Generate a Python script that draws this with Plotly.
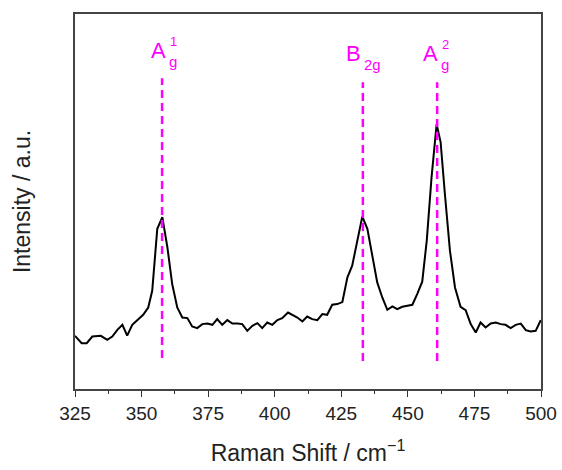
import plotly.graph_objects as go

raman_shift = [325.0, 327.5, 329.4, 331.5, 334.7, 337.1, 339.0, 340.9, 342.8, 344.6,
               346.5, 348.4, 350.6, 352.5, 354.0, 355.9, 357.8, 359.7, 361.5, 363.4,
               365.3, 367.2, 369.0, 370.9, 372.8, 374.7, 376.6, 378.4, 380.3, 382.2,
               384.1, 386.0, 387.8, 389.7, 391.6, 393.5, 395.3, 397.2, 399.1, 401.0,
               402.8, 405.0, 406.6, 408.5, 410.4, 412.2, 414.1, 416.0, 417.9, 419.7,
               421.6, 423.5, 425.4, 427.3, 429.1, 431.0, 432.9, 434.8, 436.6, 438.5,
               440.4, 442.3, 444.2, 446.0, 447.9, 449.8, 451.7, 453.5, 455.4, 457.1,
               458.9, 460.8, 462.3, 463.9, 465.8, 467.7, 469.8, 471.7, 473.6, 475.5,
               477.3, 479.2, 481.1, 483.0, 484.9, 486.7, 488.6, 490.5, 492.4, 494.3,
               496.1, 498.0, 499.9]
intensity = [53, 45.7, 45.7, 52.3, 53, 49, 52.3, 59, 64, 53.3,
             64, 69, 74, 81.3, 98, 159.7, 171.3, 141.3, 104.7, 81.3,
             71.3, 70.7, 62.3, 60.7, 64.7, 65.3, 64, 69.7, 64, 68.7,
             65.3, 65.3, 64.7, 58, 63, 65.7, 60.7, 66.3, 64, 68.7,
             70.7, 76.3, 74, 71.3, 67.3, 72.3, 69.7, 68.7, 74.7, 74,
             84, 84.7, 86.7, 111.3, 123, 148, 172, 159.7, 134.7, 106.3,
             91.3, 79, 82.3, 79.7, 82, 83.3, 84, 94.7, 107, 148,
             211.3, 264, 246.3, 194.7, 138, 101.3, 82, 78.7, 64.7, 56.3,
             66.3, 61.3, 65.3, 66.3, 64.7, 64, 60.7, 64, 65.3, 58.7,
             57.3, 58, 68.7]

mode_positions = [357.7, 433.1, 461.0]
mode_main = ["A", "B", "A"]
mode_sub = ["g", "2g", "g"]
mode_sup = ["1", "", "2"]
mode_line_top = [310, 306, 306]
mode_line_bottom = [31, 28, 28]

MAG = "#ff00ff"
FONT = "Arial, Liberation Sans, sans-serif"

fig = go.Figure()
fig.add_trace(go.Scatter(x=raman_shift, y=intensity, mode="lines",
                         line=dict(color="black", width=2), showlegend=False))

for xp, top, bot in zip(mode_positions, mode_line_top, mode_line_bottom):
    fig.add_trace(go.Scatter(x=[xp, xp], y=[bot, top], mode="lines",
                             line=dict(color=MAG, width=2.5, dash="8px,5px"),
                             showlegend=False))

main_shift = [6, 0, 3]
main_y = [338, 335, 335]
for i, xp in enumerate(mode_positions):
    fig.add_annotation(x=xp, y=main_y[i], text=mode_main[i], showarrow=False,
                       xanchor="right", yanchor="middle", xshift=main_shift[i],
                       font=dict(family=FONT, size=22, color=MAG))
    fig.add_annotation(x=xp, y=main_y[i], text=mode_sub[i], showarrow=False,
                       xanchor="left", yanchor="middle", xshift=main_shift[i] - 1,
                       yshift=-11, font=dict(family=FONT, size=15, color=MAG))
    if mode_sup[i]:
        fig.add_annotation(x=xp, y=main_y[i], text=mode_sup[i], showarrow=False,
                           xanchor="left", yanchor="middle", xshift=main_shift[i],
                           yshift=9, font=dict(family=FONT, size=13, color=MAG))

fig.update_layout(
    width=562, height=470,
    margin=dict(l=75, r=21, t=14, b=81, autoexpand=False),
    plot_bgcolor="white", paper_bgcolor="white",
    font=dict(family=FONT, color="#222"),
)
fig.update_xaxes(range=[325, 500], tickvals=[325, 350, 375, 400, 425, 450, 475, 500],
                 ticks="outside", ticklen=6, tickwidth=1.3, tickcolor="#333",
                 minor=dict(tickvals=[337.5, 362.5, 387.5, 412.5, 437.5, 462.5, 487.5],
                            ticks="outside", ticklen=3, tickcolor="#333", tickwidth=1.3),
                 showline=True, linecolor="#444", linewidth=1.5, mirror=True,
                 showgrid=False, zeroline=False, automargin=False,
                 tickfont=dict(size=19, family=FONT, color="#222"),
                 title=dict(text="Raman Shift / cm<sup>−1</sup>", standoff=22,
                            font=dict(size=23, family=FONT, color="#222")))
fig.update_yaxes(range=[0, 374], showticklabels=False, ticks="",
                 showline=True, linecolor="#444", linewidth=1.5, mirror=True,
                 showgrid=False, zeroline=False, automargin=False,
                 title=dict(text="Intensity / a.u.", standoff=36,
                            font=dict(size=23, family=FONT, color="#222")))

fig.write_html("out.html", config={"displayModeBar": False},
               post_script="document.body.style.margin='0';document.body.style.overflow='hidden';")
